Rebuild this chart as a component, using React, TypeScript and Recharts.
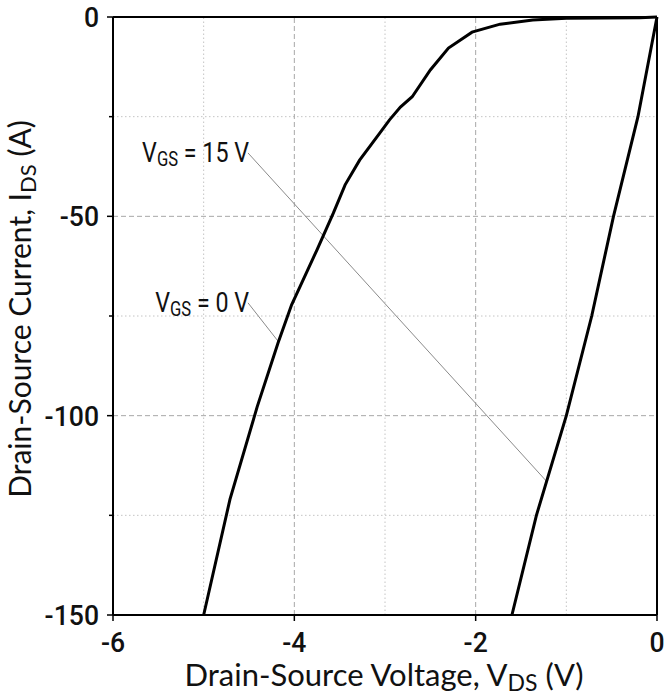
import { LineChart, Line, XAxis, YAxis, ReferenceLine, ReferenceDot } from "recharts";

// V_GS = 0 V (body diode)
const vds0 = [0, -0.19, -1.0, -1.37, -1.73, -2.04, -2.3, -2.5, -2.7, -2.83, -2.95, -3.06, -3.28, -3.44, -3.57, -3.75, -4.03, -4.18, -4.41, -4.71, -5.0];
const ids0 = [0, -0.2, -0.3, -0.75, -1.8, -3.8, -7.8, -13.3, -20, -22.6, -25.8, -29.2, -35.9, -42.1, -49.2, -58.4, -72.2, -81.8, -97.8, -121, -150];

// V_GS = 15 V
const vds15 = [0, -0.21, -0.48, -0.72, -1.0, -1.33, -1.6];
const ids15 = [0, -25, -50, -75, -100, -125, -150];

const xTicks = [-6, -4, -2, 0];
const yTicks = [-150, -125, -100, -75, -50, -25, 0];
const xMajorGrid = [-4, -2];
const xMinorGrid = [-5, -3, -1];
const yMajorGrid = [-50, -100];
const yMinorGrid = [-25, -75, -125];

const series0 = vds0.map((v, i) => ({ v, i: ids0[i] }));
const series15 = vds15.map((v, i) => ({ v, i: ids15[i] }));

const TICK_FONT = "Roboto, 'Liberation Sans', sans-serif";
const TITLE_FONT = "Lato, 'Open Sans', sans-serif";

// condensed look: squeeze text horizontally
function Narrow({ x, y, anchor, size, weight, sx, children }: any) {
  return (
    <text
      transform={`translate(${x},${y}) scale(${sx},1)`}
      textAnchor={anchor}
      fontFamily={TICK_FONT}
      fontWeight={weight}
      fontSize={size}
      fill="#111"
    >
      {children}
    </text>
  );
}

function YTick({ x, y, payload }: any) {
  const major = payload.value % 50 === 0;
  return (
    <g>
      <line x1={x - (major ? 6 : 4)} x2={x} y1={y} y2={y} stroke="#000" strokeWidth={1.5} />
      {major && (
        <Narrow x={x - 14} y={y + 10} anchor="end" size={28} weight={500} sx={0.95}>
          {payload.value}
        </Narrow>
      )}
    </g>
  );
}

function XTick({ x, y, payload }: any) {
  return (
    <g>
      <line x1={x} x2={x} y1={y} y2={y + 6} stroke="#000" strokeWidth={1.5} />
      <Narrow x={x} y={y + 37} anchor="middle" size={28} weight={500} sx={0.95}>
        {payload.value}
      </Narrow>
    </g>
  );
}

function VgsLabel({ cx, cy, value }: any) {
  return (
    <Narrow x={cx + 2} y={cy} anchor="end" size={28} weight={400} sx={0.83}>
      V<tspan fontSize={20} dy={4}>GS</tspan>
      <tspan dy={-4}>{` = ${value} V`}</tspan>
    </Narrow>
  );
}

export default function App() {
  return (
    <div style={{ position: "absolute", left: 0, top: 0, background: "#fff" }}>
      <LineChart width={665} height={698} margin={{ top: 17, right: 8, left: 0, bottom: 0 }}>
        <XAxis
          type="number"
          dataKey="v"
          domain={[-6, 0]}
          ticks={xTicks}
          height={83}
          tickSize={0}
          tickMargin={0}
          tick={<XTick />}
          axisLine={{ stroke: "#000", strokeWidth: 2 }}
          label={{
            content: () => (
              <text x={384} y={686} textAnchor="middle" fontFamily={TITLE_FONT} fontSize={31} fill="#111">
                Drain-Source Voltage, V<tspan fontSize={23} dy={5}>DS</tspan>
                <tspan dy={-5}> (V)</tspan>
              </text>
            ),
          }}
        />
        <YAxis
          type="number"
          dataKey="i"
          domain={[-150, 0]}
          ticks={yTicks}
          width={113}
          tickSize={0}
          tickMargin={0}
          interval={0}
          tick={<YTick />}
          axisLine={{ stroke: "#000", strokeWidth: 2 }}
          label={{
            content: () => (
              <text x={0} y={0} transform="translate(31,309) rotate(-90)" textAnchor="middle" fontFamily={TITLE_FONT} fontSize={30} fill="#111">
                Drain-Source Current, I<tspan fontSize={22} dy={5}>DS</tspan>
                <tspan dy={-5}> (A)</tspan>
              </text>
            ),
          }}
        />
        {xMinorGrid.map((x) => (
          <ReferenceLine key={"xm" + x} x={x} stroke="#c4c4c4" strokeDasharray="1.5 2.5" />
        ))}
        {yMinorGrid.map((y) => (
          <ReferenceLine key={"ym" + y} y={y} stroke="#c4c4c4" strokeDasharray="1.5 2.5" />
        ))}
        {xMajorGrid.map((x) => (
          <ReferenceLine key={"xM" + x} x={x} stroke="#a8a8a8" strokeDasharray="5 3" />
        ))}
        {yMajorGrid.map((y) => (
          <ReferenceLine key={"yM" + y} y={y} stroke="#a8a8a8" strokeDasharray="5 3" />
        ))}
        <ReferenceLine segment={[{ x: -4.511, y: -34.1 }, { x: -1.213, y: -116.6 }]} stroke="#8a8a8a" strokeWidth={1} />
        <ReferenceLine segment={[{ x: -4.511, y: -71.7 }, { x: -4.18, y: -81.3 }]} stroke="#8a8a8a" strokeWidth={1} />
        <Line data={series0} dataKey="i" type="linear" stroke="#000" strokeWidth={3} dot={false} isAnimationActive={false} />
        <Line data={series15} dataKey="i" type="linear" stroke="#000" strokeWidth={3} dot={false} isAnimationActive={false} />
        <ReferenceLine y={0} stroke="#000" strokeWidth={2} />
        <ReferenceLine x={0} stroke="#000" strokeWidth={2} />
        <ReferenceDot x={-4.522} y={-36.4} r={1} shape={(p: any) => <VgsLabel {...p} value={15} />} />
        <ReferenceDot x={-4.522} y={-74.0} r={1} shape={(p: any) => <VgsLabel {...p} value={0} />} />
      </LineChart>
    </div>
  );
}
